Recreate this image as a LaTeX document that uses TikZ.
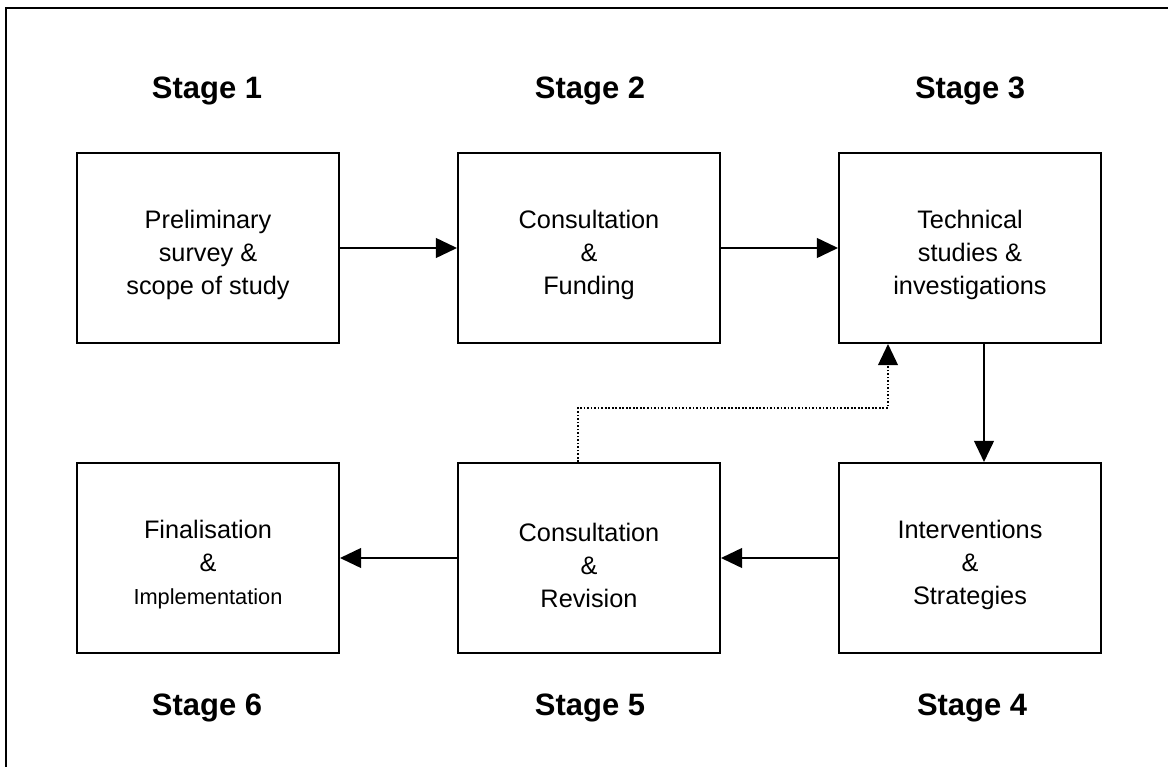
\documentclass[tikz,border=0pt]{standalone}
\usepackage{fontspec}
\setmainfont{Liberation Sans}
\usetikzlibrary{arrows.meta}
\tikzset{
  >={Triangle[length=15pt,width=14pt]},
  boxtext/.style={align=center,inner sep=0pt,yshift=-1.75mm,font=\fontsize{18}{23.5}\selectfont},
  stagebox/.style={draw,line width=1.4pt,minimum width=65.5mm,minimum height=47.5mm,
                   inner sep=0pt,label={[boxtext]center:{#1}}},
  stagelbl/.style={anchor=base,font=\fontsize{22}{26}\selectfont\bfseries},
  flow/.style={->,line width=1.4pt},
  loopback/.style={->,line width=1.3pt,dash pattern=on 1.2pt off 1.3pt},
}

\begin{document}
\begin{tikzpicture}[x=0.25mm,y=-0.25mm]
  \useasboundingbox (0,0) rectangle (1168,767);
  \draw[line width=1.4pt] (1168,8) -- (6,8) -- (6,767);

  % top row
  \node[stagelbl] (s1) at (207,99) {Stage 1};
  \node[stagelbl] (s2) at (590,99) {Stage 2};
  \node[stagelbl] (s3) at (970,99) {Stage 3};
  \node[stagebox={Preliminary\\survey \&\\scope of study}] (prelim) at (208,248) {};
  \node[stagebox={Consultation\\\&\\Funding}] (consult) at (589,248) {};
  \node[stagebox={Technical\\studies \&\\investigations}] (techn) at (970,248) {};

  % bottom row
  \node[stagebox={Finalisation\\\&\\{\fontsize{15.5}{23.5}\selectfont Implementation}}] (final) at (208,558) {};
  \node[stagebox={Consultation\\\&\\Revision}] (revise) at (589,558) {};
  \node[stagebox={Interventions\\\&\\Strategies}] (interv) at (970,558) {};
  \node[stagelbl] (s6) at (207,715) {Stage 6};
  \node[stagelbl] (s5) at (590,715) {Stage 5};
  \node[stagelbl] (s4) at (972,715) {Stage 4};

  \draw[flow] (prelim) -- (consult);
  \draw[flow] (consult) -- (techn);
  \draw[flow] ([xshift=3.5mm]techn.south) -- ([xshift=3.5mm]interv.north);
  \draw[flow] (interv) -- (revise);
  \draw[flow] (revise) -- (final);

  \coordinate (bend) at (888,408);
  \draw[loopback] ([xshift=-2.75mm]revise.north) |- (bend) -- (bend |- techn.south);
\end{tikzpicture}
\end{document}
